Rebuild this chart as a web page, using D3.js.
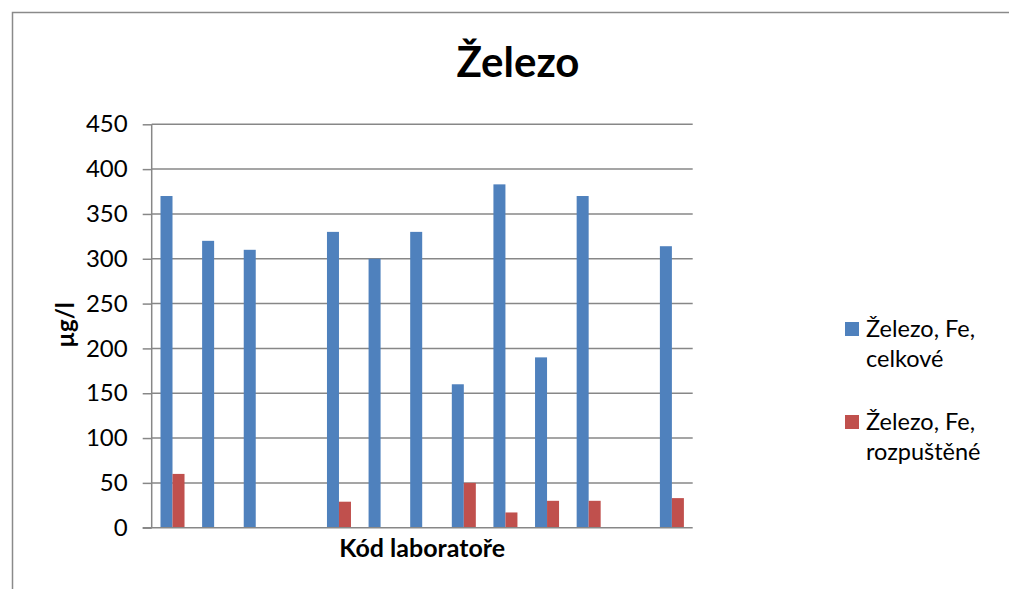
<html>
<head>
<meta charset='utf-8'>
<script src='https://d3js.org/d3.v7.min.js'></script>
<style>
body { margin: 0; background: white; }
text { font-family: Lato, 'Open Sans', sans-serif; fill: black; }
</style>
</head>
<body>
<svg width='1009' height='589'></svg>
<script>
// lab codes are not printed on the chart, so just placeholders
const labs = ['L1', 'L2', 'L3', 'L4', 'L5', 'L6', 'L7', 'L8', 'L9', 'L10', 'L11', 'L12', 'L13']
const seriesNames = ['Železo, Fe, celkové', 'Železo, Fe, rozpuštěné']
const celkove = [370, 320, 310, null, 330, 300, 330, 160, 383, 190, 370, null, 314]
const rozpustene = [60, null, null, null, 29, null, null, 50, 17, 30, 30, null, 33]
const yTicks = [0, 50, 100, 150, 200, 250, 300, 350, 400, 450]
const colors = ['#4F81BD', '#C0504D']

const svg = d3.select('svg')
const plotLeft = 151.7, plotRight = 692.7, plotTop = 124.3, plotBottom = 527.7

// outer chart frame (cut off on the right and bottom)
svg.append('rect')
	.attr('x', 12.5).attr('y', 12.5)
	.attr('width', 1100).attr('height', 700)
	.attr('fill', 'none').attr('stroke', '#8a8a8a').attr('stroke-width', 1.5)

const x = d3.scaleBand().domain(labs).range([plotLeft, plotRight])
	.paddingInner(0.423).paddingOuter(0.2115)
const xs = d3.scaleBand().domain([0, 1]).range([0, x.bandwidth()])
const y = d3.scaleLinear().domain([0, 450]).range([plotBottom, plotTop])

// grid
svg.append('g').selectAll('line').data(yTicks.filter(d => d > 0)).enter().append('line')
	.attr('x1', plotLeft).attr('x2', plotRight)
	.attr('y1', d => y(d)).attr('y2', d => y(d))
	.attr('stroke', '#878787').attr('stroke-width', 1.5)

// bars
const series = [celkove, rozpustene]
series.forEach((vals, s) => {
	svg.append('g').selectAll('rect')
		.data(labs.map((lab, i) => ({ lab, v: vals[i] })).filter(d => d.v !== null))
		.enter().append('rect')
		.attr('x', d => x(d.lab) + xs(s))
		.attr('width', xs.bandwidth())
		.attr('y', d => y(d.v))
		.attr('height', d => plotBottom - y(d.v))
		.attr('fill', colors[s])
})

// y axis
const yAxis = svg.append('g')
	.attr('transform', `translate(${plotLeft},0)`)
	.call(d3.axisLeft(y).tickValues(yTicks).tickSize(9).tickPadding(15))
yAxis.select('.domain').attr('stroke', '#878787').attr('stroke-width', 1.5).attr('d', `M0,${plotTop}V${plotBottom}`)
yAxis.selectAll('.tick line').attr('stroke', '#878787').attr('stroke-width', 1.5)
yAxis.selectAll('.tick text').style('font-size', '24px').attr('fill', 'black')
	.style('font-family', 'Lato, sans-serif')

// x axis line
svg.append('line')
	.attr('x1', plotLeft - 9).attr('x2', plotRight)
	.attr('y1', plotBottom).attr('y2', plotBottom)
	.attr('stroke', '#878787').attr('stroke-width', 1.5)

// title and axis labels
svg.append('text')
	.attr('x', 518).attr('y', 77)
	.attr('text-anchor', 'middle')
	.style('font-size', '42px').style('font-weight', 'bold')
	.text('Železo')

svg.append('text')
	.attr('x', (plotLeft + plotRight) / 2).attr('y', 557)
	.attr('text-anchor', 'middle')
	.style('font-size', '25px').style('font-weight', 'bold')
	.text('Kód laboratoře')

svg.append('text')
	.attr('transform', 'translate(74,325) rotate(-90)')
	.attr('text-anchor', 'middle')
	.style('font-size', '24px').style('font-weight', 'bold')
	.text('µg/l')

// legend
const legend = svg.append('g')
seriesNames.forEach((name, i) => {
	const y0 = 322 + i * 93
	legend.append('rect')
		.attr('x', 845).attr('y', y0)
		.attr('width', 14).attr('height', 14)
		.attr('fill', colors[i])
	const parts = name.split('Fe, ')
	const t = legend.append('text')
		.attr('x', 866).attr('y', y0 + 15)
		.style('font-size', '23.5px')
	t.append('tspan').attr('x', 866).text(parts[0] + 'Fe,')
	t.append('tspan').attr('x', 866).attr('dy', 30).text(parts[1])
})
</script>
</body>
</html>
